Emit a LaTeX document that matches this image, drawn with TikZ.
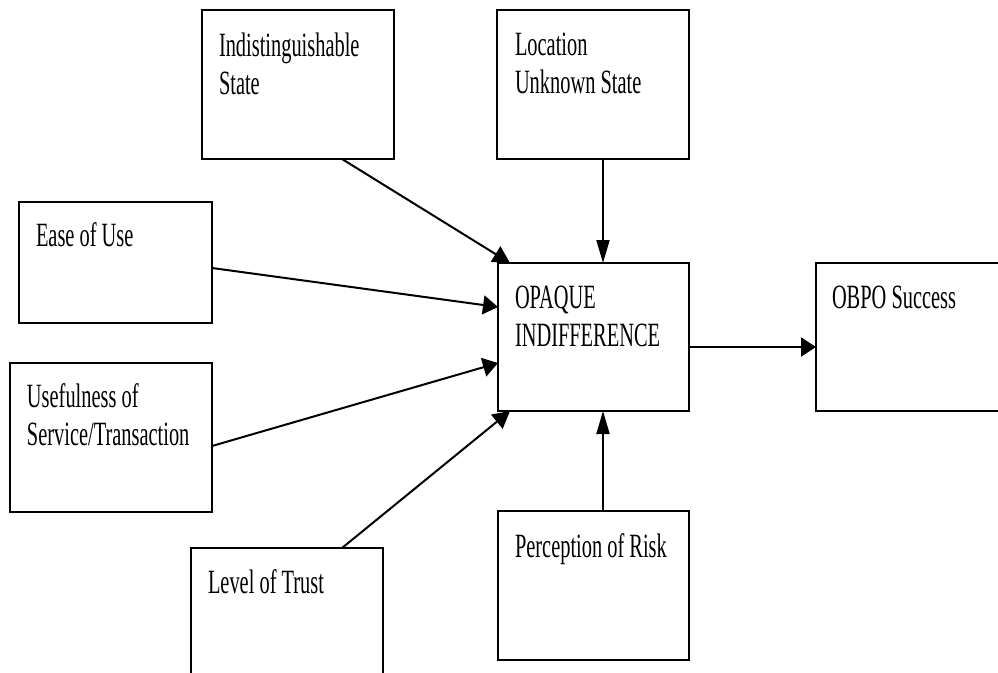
\documentclass[tikz,border=0pt]{standalone}
\usepackage{fontspec}
\usepackage{graphicx}
\setmainfont{Liberation Serif}
\usetikzlibrary{arrows.meta}
% label text: narrow serif, left-aligned lines, baseline on the first line
\newcommand\lbltext[1]{\scalebox{0.6}[1]{\begin{tabular}[t]{@{}l@{}}#1\end{tabular}}}
\begin{document}
\begin{tikzpicture}[x=1pt,y=-1pt,
  box/.style={draw=black,line width=1.5pt,rectangle,inner sep=0pt,outer sep=0pt},
  lbl/.style={anchor=base west,inner sep=0pt,outer sep=0pt,
    font=\fontsize{34pt}{38pt}\selectfont},
  link/.style={draw=black,line width=2pt},
  tipV/.style={-{Triangle[length=23pt,width=13pt]}},
  tipH/.style={-{Triangle[length=15pt,width=19pt]}},
  tipD/.style={-{Triangle[length=17pt,width=18pt]}}]
\clip (0,0) rectangle (998,672);
\fill[white] (0,0) rectangle (998,672);

% boxes
\node[box,minimum width=192pt,minimum height=149pt] (indist)  at (298,84.5)  {};
\node[box,minimum width=192pt,minimum height=149pt] (loc)     at (593,84.5)  {};
\node[box,minimum width=193pt,minimum height=121pt] (ease)    at (115.5,262.5) {};
\node[box,minimum width=202pt,minimum height=149pt] (useful)  at (111,437.5) {};
\node[box,minimum width=191pt,minimum height=148pt] (opaque)  at (593.5,337) {};
\node[box,minimum width=284pt,minimum height=148pt] (obpo)    at (958,337)   {};
\node[box,minimum width=192pt,minimum height=212pt] (trust)   at (287,654)   {};
\node[box,minimum width=191pt,minimum height=149pt] (risk)    at (593.5,585.5) {};

% labels
\node[lbl] (indistT) at ([xshift=17pt,yshift=-46pt]indist.north west) {\lbltext{Indistinguishable\\State}};
\node[lbl] (locT)    at ([xshift=18pt,yshift=-45pt]loc.north west)    {\lbltext{Location\\Unknown State}};
\node[lbl] (easeT)   at ([xshift=17pt,yshift=-44pt]ease.north west)   {\lbltext{Ease of Use}};
\node[lbl] (usefulT) at ([xshift=17pt,yshift=-44pt]useful.north west) {\lbltext{Usefulness of\\Service/Transaction}};
\node[lbl] (opaqueT) at ([xshift=17pt,yshift=-45pt]opaque.north west) {\lbltext{OPAQUE\\INDIFFERENCE}};
\node[lbl] (obpoT)   at ([xshift=16pt,yshift=-45pt]obpo.north west)   {\lbltext{OBPO Success}};
\node[lbl] (trustT)  at ([xshift=17pt,yshift=-45pt]trust.north west)  {\lbltext{Level of Trust}};
\node[lbl] (riskT)   at ([xshift=17pt,yshift=-46pt]risk.north west)   {\lbltext{Perception of Risk}};

% connectors
\draw[link,tipD] ([xshift=140pt]indist.south west) -- ([xshift=12pt]opaque.north west);
\draw[link,tipV] ([xshift=106pt]loc.south west) -- ([xshift=105pt]opaque.north west);
\draw[link,tipH] ([yshift=-66pt]ease.north east) -- ([yshift=-44pt]opaque.north west);
\draw[link,tipH] ([yshift=-83pt]useful.north east) -- ([yshift=-100pt]opaque.north west);
\draw[link,tipD] ([xshift=151pt]trust.north west) -- ([xshift=12pt]opaque.south west);
\draw[link,tipV] ([xshift=105pt]risk.north west) -- ([xshift=105pt]opaque.south west);
\draw[link,tipH] ([yshift=-84pt]opaque.north east) -- ([yshift=-84pt]obpo.north west);
\end{tikzpicture}
\end{document}
